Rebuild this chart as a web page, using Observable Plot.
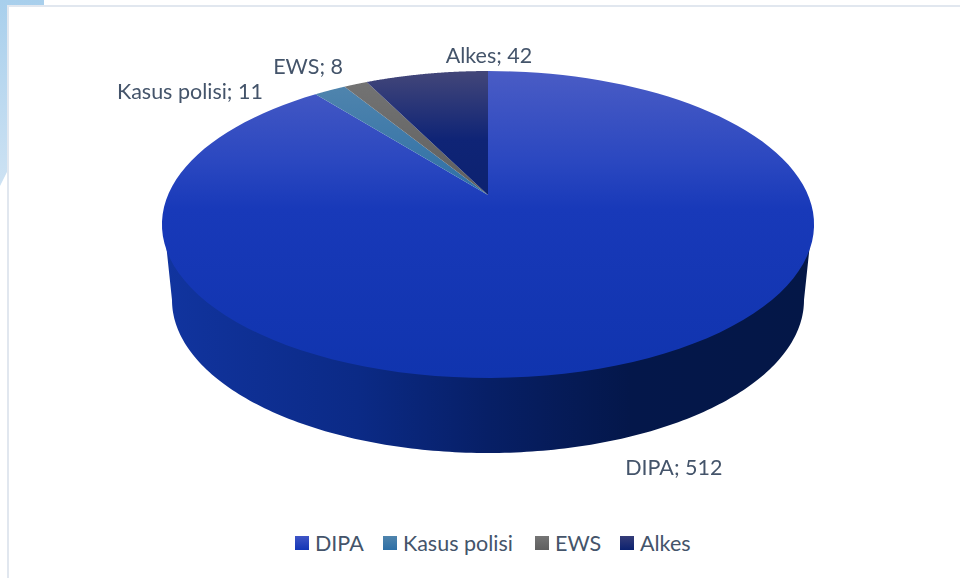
<!DOCTYPE html>
<html><head><meta charset="utf-8">
<script src="https://cdn.jsdelivr.net/npm/d3@7"></script>
<script src="https://cdn.jsdelivr.net/npm/@observablehq/plot@0.6"></script>
<style>
html,body{margin:0;padding:0;background:#fff;width:960px;height:578px;overflow:hidden;font-family:Lato,"Open Sans",sans-serif}
#deco{position:absolute;left:0;top:0;width:44px;height:186px;background:linear-gradient(#a8cfec,#cde2f3);clip-path:polygon(0 0,44px 0,44px 6px,7px 6px,7px 172px,0 186px)}
#frame{position:absolute;left:7px;top:5px;width:953px;height:573px;border-left:2px solid #e1e7ef;border-top:2px solid #e1e7ef;box-sizing:border-box}
#chart{position:absolute;left:0;top:0}
#chart svg{display:block;background:transparent;filter:blur(.35px)}
#legend{position:absolute;left:0;top:520px;width:960px;height:46px;display:block}
.item{position:absolute;top:8px;display:flex;align-items:center;font-size:21.5px;line-height:30px;color:#44546a;white-space:nowrap}
.sw{width:14px;height:14px;margin-right:6px;display:inline-block}
</style></head>
<body>
<div id="deco"></div><div id="frame"></div>
<div id="chart"></div>
<div id="legend"></div>
<script>
// Data
const categories = ["DIPA", "Kasus polisi", "EWS", "Alkes"];
const values = [512, 11, 8, 42];
// Styles
const topStops = [
  [[0,"#4a5cc5"],[0.3,"#2a47c0"],[0.45,"#1839b9"],[1,"#1034ae"]],
  [[0,"#4f84ad"],[1,"#2e6fa6"]],
  [[0,"#737373"],[1,"#5f5f5f"]],
  [[0,"#434679"],[0.55,"#0f2476"],[1,"#0c2270"]]
];
const wallStops = [[0,"#11349f"],[0.3,"#0b2a86"],[0.5,"#071f66"],[0.72,"#04174a"],[1,"#041747"]];
const swatches = ["linear-gradient(#3f55c6,#1336b6)","linear-gradient(#4f84ad,#2e6fa6)","linear-gradient(#757575,#5f5f5f)","linear-gradient(#353c78,#0c2270)"];
// Layout of the disc in perspective
const H = 520, apexX = 488, apexY = 195, K = 320, B = -110.35, C = 0.192;
const rim = (deg) => {
  const a = deg * Math.PI / 180, u = Math.sin(a), v = Math.cos(a), d = 1 + C * v;
  return {x: apexX + K * u / d, y: (apexY + B * v) / d};
};
const labelNudge = {"DIPA": [57, 102], "Kasus polisi": [-140.5, 1], "EWS": [-48, -18], "Alkes": [62, -18]};

// Slices: clockwise from twelve o'clock
const total = d3.sum(values);
let acc = 0;
const slices = categories.map((name, i) => {
  const a0 = acc / total * 360; acc += values[i];
  const a1 = acc / total * 360;
  const pts = d3.range(0, 121).map(k => {
    const p = rim(a0 + (a1 - a0) * k / 120);
    return {x1: apexX, y1: apexY, x2: p.x, y2: p.y};
  });
  const mid = rim((a0 + a1) / 2);
  const [dx, dy] = labelNudge[name];
  return {name, value: values[i], pts, lx: mid.x + dx, ly: mid.y + dy, i};
});

// Wall: front half of the top rim (tucked under the top face) joined to a smaller, lower rim
const wall = d3.range(0, 181).map(k => {
  const t = Math.PI * k / 180;
  return {
    x1: 488 - 324.5 * Math.cos(t), y1: 220 + 153 * Math.sin(t),
    x2: 488 - 316 * Math.cos(t), y2: 300 + 153 * Math.sin(t)
  };
});

const defs = () => {
  const svg = d3.create("svg:g");
  const d = svg.append("defs");
  const addGrad = (id, stops, horizontal) => {
    const g = d.append("linearGradient").attr("id", id)
      .attr("x1", 0).attr("y1", 0).attr("x2", horizontal ? 1 : 0).attr("y2", horizontal ? 0 : 1);
    stops.forEach(([o, c]) => g.append("stop").attr("offset", o).attr("stop-color", c));
  };
  topStops.forEach((s, i) => addGrad("top" + i, s, false));
  addGrad("wall", wallStops, true);
  return svg.node();
};

const chart = Plot.plot({
  width: 960, height: H,
  margin: 0,
  style: {background: "transparent", overflow: "visible"},
  x: {axis: null, domain: [0, 960], range: [0, 960]},
  y: {axis: null, domain: [0, H], range: [0, H]},
  marks: [
    defs,
    Plot.area(wall, {x1: "x1", y1: "y1", x2: "x2", y2: "y2", fill: "url(#wall)", curve: "linear"}),
    ...slices.map((s, i) => Plot.area(s.pts, {x1: "x1", y1: "y1", x2: "x2", y2: "y2", fill: `url(#top${i})`, curve: "linear"})),
    Plot.text(slices, {
      x: "lx", y: "ly",
      text: d => `${d.name}; ${d.value}`,
      fontSize: 21.5, fontFamily: "Lato, 'Open Sans', sans-serif", fill: "#44546a", textAnchor: "middle"
    })
  ]
});
document.getElementById("chart").appendChild(chart);

// Legend below the SVG
const legendLeft = [295, 383, 535, 620];
const legend = document.getElementById("legend");
categories.forEach((name, i) => {
  const it = document.createElement("div");
  it.className = "item"; it.style.left = legendLeft[i] + "px";
  const sw = document.createElement("span");
  sw.className = "sw"; sw.style.background = swatches[i];
  it.appendChild(sw); it.appendChild(document.createTextNode(name));
  legend.appendChild(it);
});
</script>
</body></html>
